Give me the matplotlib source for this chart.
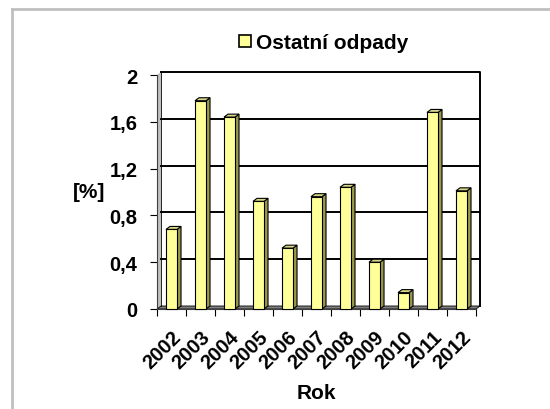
import matplotlib
matplotlib.use("Agg")
import matplotlib.pyplot as plt
from matplotlib.patches import Rectangle, Polygon, Patch
from matplotlib.lines import Line2D

years = ['2002', '2003', '2004', '2005', '2006', '2007',
         '2008', '2009', '2010', '2011', '2012']
values = [0.68, 1.78, 1.64, 0.92, 0.52, 0.96, 1.04, 0.40, 0.14, 1.68, 1.01]
yticks = [0, 0.4, 0.8, 1.2, 1.6, 2]
ytick_labels = ['0', '0,4', '0,8', '1,2', '1,6', '2']
series_name = 'Ostatní odpady'

plt.rcParams['font.family'] = ['Liberation Sans', 'DejaVu Sans']
plt.rcParams['font.weight'] = 'bold'

front = '#FFFF99'
side = '#99994D'
top = '#D6D68A'

fig = plt.figure(figsize=(5.5, 4.1), dpi=100)
W, H = 550, 410
ax = fig.add_axes([157 / W, 1 - 310 / H, 319 / W, 234 / H])

n = len(years)
ax.set_xlim(-0.5, n - 0.5)
ax.set_ylim(0, 2)

# depth offset of the 3D look, in data units (~4 px right, ~3 px up)
dx = 4 / 29
dy = 3 / 117
w = 0.38

# left wall and floor
ax.add_patch(Polygon([(-0.5, 0), (-0.5 + dx, dy), (-0.5 + dx, 2 + dy), (-0.5, 2)],
                     closed=True, facecolor='#C0C0C0', edgecolor='none',
                     clip_on=False, zorder=0))
ax.add_patch(Polygon([(-0.5, 0), (n - 0.5, 0), (n - 0.5 + dx, dy), (-0.5 + dx, dy)],
                     closed=True, facecolor='#808080', edgecolor='black',
                     linewidth=0.6, clip_on=False, zorder=0.5))

# gridlines on back wall
for yv in yticks[1:-1]:
    ax.add_line(Line2D([-0.5 + dx, n - 0.5 + dx], [yv + dy, yv + dy],
                       color='black', linewidth=1.4, zorder=0.6, clip_on=False))
# back wall outline (top + right)
ax.add_line(Line2D([-0.5 + dx, n - 0.5 + dx, n - 0.5 + dx], [2 + dy, 2 + dy, dy],
                   color='black', linewidth=1.4, zorder=0.6, clip_on=False))
ax.add_line(Line2D([-0.5 + dx, -0.5 + dx], [dy, 2 + dy],
                   color='black', linewidth=0.6, zorder=0.6, clip_on=False))

# bars
for i, v in enumerate(values):
    xl, xr = i - w / 2, i + w / 2
    ax.add_patch(Polygon([(xr, 0), (xr + dx, dy), (xr + dx, v + dy), (xr, v)],
                         closed=True, facecolor=side, edgecolor='black',
                         linewidth=0.8, zorder=2, clip_on=False))
    ax.add_patch(Polygon([(xl, v), (xl + dx, v + dy), (xr + dx, v + dy), (xr, v)],
                         closed=True, facecolor=top, edgecolor='black',
                         linewidth=0.8, zorder=2, clip_on=False))
    ax.add_patch(Rectangle((xl, 0), w, v, facecolor=front, edgecolor='black',
                           linewidth=0.8, zorder=3, clip_on=False))

for s in ['top', 'right']:
    ax.spines[s].set_visible(False)
ax.spines['left'].set_linewidth(0.8)
ax.spines['bottom'].set_linewidth(0.8)
ax.spines['left'].set_color('#404040')
ax.spines['bottom'].set_color('#404040')

ax.set_yticks(yticks)
ax.set_yticklabels(ytick_labels, fontsize=14.5, fontweight='bold')
ax.tick_params(axis='y', length=5, width=0.8, pad=9)

ax.set_xticks(range(n))
ax.set_xticklabels(years, rotation=45, ha='right', va='top',
                   rotation_mode='anchor', fontsize=14.5, fontweight='bold')
ax.set_xticks([i - 0.5 for i in range(n + 1)], minor=True)
ax.tick_params(axis='x', which='major', length=0, pad=13)
ax.tick_params(axis='x', which='minor', length=5, width=0.8)

ax.set_xlabel('Rok', fontsize=15, fontweight='bold', labelpad=8)
ax.set_ylabel('[%]', fontsize=15, fontweight='bold', rotation=0,
              ha='center', va='center')
ax.yaxis.set_label_coords(-0.213, 0.5)

fig.legend(handles=[Patch(facecolor=front, edgecolor='black', linewidth=1.2)],
           labels=[series_name], loc='center', bbox_to_anchor=(0.589, 0.893),
           frameon=False, prop={'size': 15, 'weight': 'bold'},
           handlelength=0.55, handleheight=0.55, handletextpad=0.25)

# chart area border (top and left edges visible)
fig.add_artist(Line2D([11.5 / W, 11.5 / W], [0, 1 - 9.5 / H],
                      transform=fig.transFigure, color='#C0C0C0', linewidth=2))
fig.add_artist(Line2D([11.5 / W, 1], [1 - 9.5 / H, 1 - 9.5 / H],
                      transform=fig.transFigure, color='#C0C0C0', linewidth=2))

fig.savefig('out.png', dpi=100)
